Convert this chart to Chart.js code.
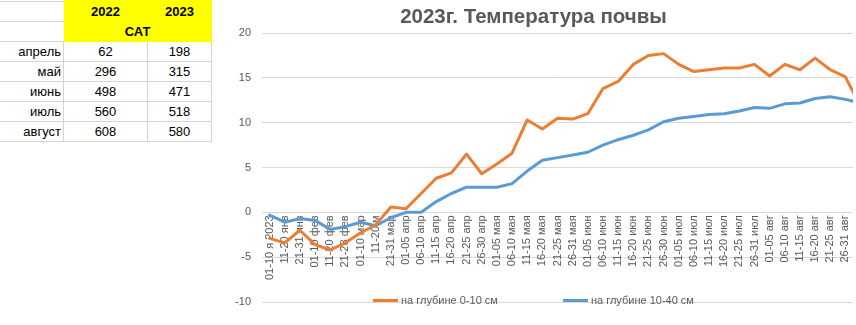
<!DOCTYPE html>
<html lang="ru">
<head>
<meta charset="utf-8">
<script src="https://cdn.jsdelivr.net/npm/chart.js@4.4.1/dist/chart.umd.min.js"></script>
<style>
  html, body { margin: 0; padding: 0; background: #fff; width: 856px; height: 325px; overflow: hidden; }
  body { position: relative; font-family: "Liberation Sans", Arial, sans-serif; }
  #sat { position: absolute; left: -1px; top: 1px; border-collapse: collapse; table-layout: fixed; }
  #sat td { border: 1px solid #d4d4d4; height: 19px; padding: 0 2px; font-size: 13px; color: #000; white-space: nowrap; line-height: 19px; }
  #sat td.m { text-align: right; }
  #sat td.v { text-align: center; }
  #sat td.h { background: #ffff00; font-weight: bold; text-align: center; border-style: hidden; }
  #sat tr.top td.h { box-shadow: 0 -2px 0 #ffff00; }
  #wrap { position: absolute; left: 214px; top: 0; width: 642px; height: 325px; }
  #legend { position: absolute; left: 373px; top: 294px; display: flex; gap: 65px; font-size: 11px; line-height: 13px; color: #595959; }
  #legend .item { display: flex; align-items: center; }
  #legend .mark { width: 25px; height: 3px; margin-right: 3px; }
</style>
</head>
<body>
<table id="sat">
  <colgroup><col style="width:64px"><col style="width:84px"><col style="width:64px"></colgroup>
  <tbody></tbody>
</table>
<div id="wrap"><canvas id="soil"></canvas></div>
<div id="legend"></div>
<script>
// сумма активных температур по месяцам
const months = ['апрель', 'май', 'июнь', 'июль', 'август'];
const years = ['2022', '2023'];
const sat2022 = [62, 296, 498, 560, 608];
const sat2023 = [198, 315, 471, 518, 580];

// декады / пятидневки 2023 г.
const periods = [
  '01-10 я 2023', '11-20 янв', '21-31 янв', '01-10 фев', '11-20 фев', '21-28 фев',
  '01-10 мар', '11-20 м', '21-31 мар', '01-05 апр', '06-10 апр', '11-15 апр',
  '16-20 апр', '21-25 апр', '26-30 апр', '01-05 мая', '06-10 мая', '11-15 мая',
  '16-20 мая', '21-25 мая', '26-31 мая', '01-05 июн', '06-10 июн', '11-15 июн',
  '16-20 июн', '21-25 июн', '26-30 июн', '01-05 июл', '06-10 июл', '11-15 июл',
  '16-20 июл', '21-25 июл', '26-31 июл', '01-05 авг', '06-10 авг', '11-15 авг',
  '16-20 авг', '21-25 авг', '26-31 авг', '01-05 сен'
];
const depth0_10 = [
  -2.9, -3.4, -2.0, -3.6, -4.2, -3.4, -2.3, -1.4, 0.6, 0.4,
  2.1, 3.8, 4.4, 6.5, 4.3, 5.4, 6.6, 10.3, 9.3, 10.5,
  10.4, 11.0, 13.8, 14.6, 16.5, 17.5, 17.7, 16.5, 15.7, 15.9,
  16.1, 16.1, 16.5, 15.2, 16.5, 15.9, 17.2, 15.9, 15.1, 11.8
];
const depth10_40 = [
  -0.3, -1.1, -0.7, -0.9, -1.9, -1.6, -1.1, -1.5, -0.6, 0.0,
  0.0, 1.2, 2.1, 2.8, 2.8, 2.8, 3.2, 4.6, 5.8, 6.1,
  6.4, 6.7, 7.5, 8.1, 8.6, 9.2, 10.1, 10.5, 10.7, 10.9,
  11.0, 11.3, 11.7, 11.6, 12.1, 12.2, 12.7, 12.9, 12.6, 12.2
];
const lastShown = 38; // '26-31 авг' - последняя подписанная точка на оси

// таблица САТ
const tbody = document.querySelector('#sat tbody');
tbody.innerHTML =
  '<tr class="top"><td></td><td class="h">' + years[0] + '</td><td class="h">' + years[1] + '</td></tr>' +
  '<tr><td></td><td class="h" colspan="2">САТ</td></tr>' +
  months.map((m, i) =>
    '<tr><td class="m">' + m + '</td><td class="v">' + sat2022[i] + '</td><td class="v">' + sat2023[i] + '</td></tr>'
  ).join('');

Chart.defaults.font.family = '"Liberation Sans", Arial, sans-serif';
Chart.defaults.color = '#595959';

const toPoints = (arr) => arr.map((v, i) => ({ x: i, y: v }));

const ctx = document.getElementById('soil').getContext('2d');
const soilChart = new Chart(ctx, {
  type: 'line',
  data: {
    datasets: [{
      label: 'на глубине 0-10 см',
      data: toPoints(depth0_10),
      borderColor: '#ed7d31',
      backgroundColor: '#ed7d31',
      borderWidth: 3,
      pointRadius: 0,
      borderJoinStyle: 'round',
      borderCapStyle: 'round',
      tension: 0
    }, {
      label: 'на глубине 10-40 см',
      data: toPoints(depth10_40),
      borderColor: '#5b9bd5',
      backgroundColor: '#5b9bd5',
      borderWidth: 3,
      pointRadius: 0,
      borderJoinStyle: 'round',
      borderCapStyle: 'round',
      tension: 0
    }]
  },
  options: {
    animation: false,
    responsive: true,
    maintainAspectRatio: false,
    layout: { padding: { left: 0, right: 3, top: 0, bottom: 23 } },
    plugins: {
      legend: { display: false },
      tooltip: { enabled: false },
      title: {
        display: true,
        text: '2023г. Температура почвы',
        color: '#595959',
        font: { size: 20.5, weight: 'bold' },
        padding: { top: 4.7, bottom: 3.7 }
      }
    },
    scales: {
      x: {
        type: 'linear',
        position: { y: 0 }, // подписи идут от нулевой линии
        min: -0.5,
        max: lastShown + 0.5,
        grid: { display: false, drawTicks: false },
        border: { display: false },
        afterBuildTicks: (axis) => {
          axis.ticks = periods.slice(0, lastShown + 1).map((p, i) => ({ value: i }));
        },
        afterFit: (axis) => {
          axis.paddingLeft = 0;
          axis.paddingRight = 0;
        },
        ticks: {
          autoSkip: false,
          minRotation: 90,
          maxRotation: 90,
          padding: 3,
          font: { size: 11 },
          callback: (value) => periods[value]
        }
      },
      y: {
        min: -10,
        max: 20,
        ticks: { stepSize: 5, padding: 11, font: { size: 11 } },
        grid: { color: '#d9d9d9', drawTicks: false },
        border: { display: false },
        afterFit: (axis) => { axis.width = 48; }
      }
    }
  }
});

// легенда под графиком
const legend = document.getElementById('legend');
soilChart.data.datasets.forEach(ds => {
  const item = document.createElement('div');
  item.className = 'item';
  const mark = document.createElement('span');
  mark.className = 'mark';
  mark.style.background = ds.borderColor;
  const text = document.createElement('span');
  text.textContent = ds.label;
  item.appendChild(mark);
  item.appendChild(text);
  legend.appendChild(item);
});
</script>
</body>
</html>
